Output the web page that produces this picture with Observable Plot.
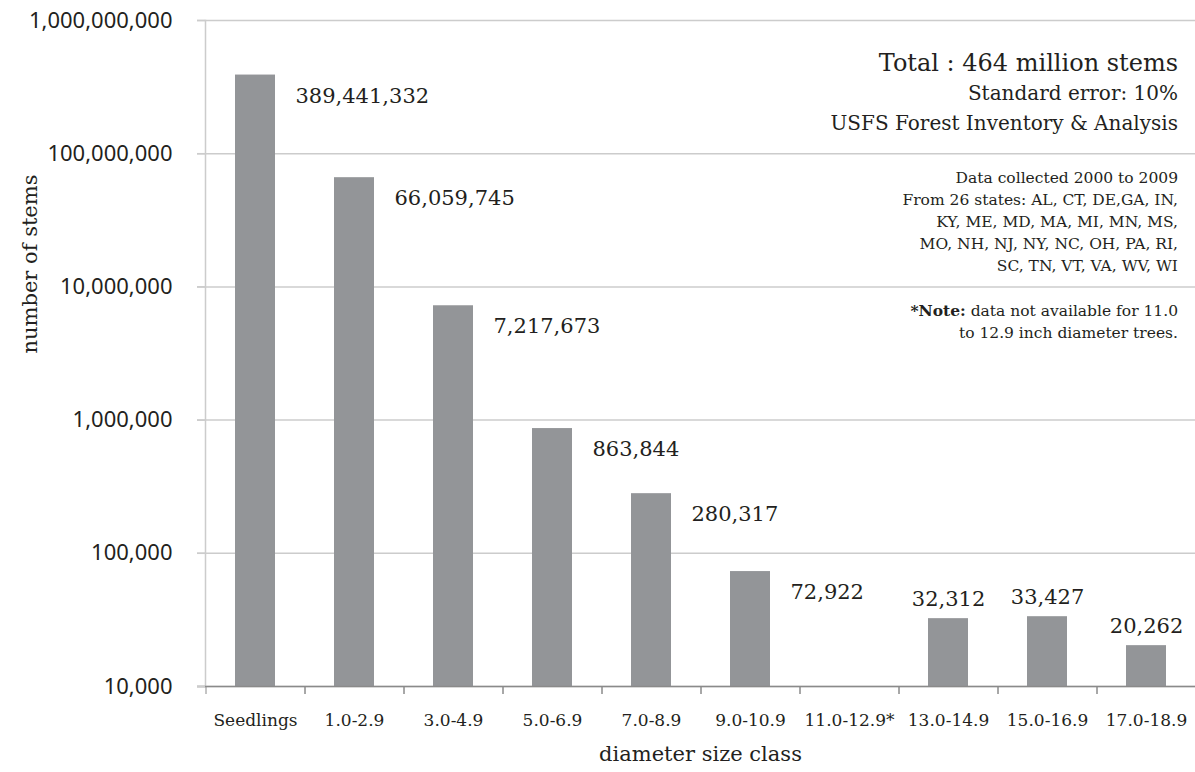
<!DOCTYPE html>
<html>
<head>
<meta charset="utf-8">
<script src="https://cdn.jsdelivr.net/npm/d3@7"></script>
<script src="https://cdn.jsdelivr.net/npm/@observablehq/plot@0.6"></script>
<style>
  html, body { margin: 0; padding: 0; background: #fff; }
  #chart svg { display: block; }
</style>
</head>
<body>
<div id="chart"></div>
<script>
const categories = ["Seedlings", "1.0-2.9", "3.0-4.9", "5.0-6.9", "7.0-8.9", "9.0-10.9", "11.0-12.9*", "13.0-14.9", "15.0-16.9", "17.0-18.9"];
const stems = [389441332, 66059745, 7217673, 863844, 280317, 72922, null, 32312, 33427, 20262];
const sideLabeled = ["Seedlings", "1.0-2.9", "3.0-4.9", "5.0-6.9", "7.0-8.9", "9.0-10.9"];
const yTicks = [1e4, 1e5, 1e6, 1e7, 1e8, 1e9];
const noteLines = [
  "Data collected 2000 to 2009",
  "From 26 states: AL, CT, DE,GA, IN,",
  "KY, ME, MD, MA, MI, MN, MS,",
  "MO, NH, NJ, NY, NC, OH, PA, RI,",
  "SC, TN, VT, VA, WV, WI"
];

const data = categories.map((c, i) => ({cat: c, value: stems[i]})).filter(d => d.value != null);
const fmt = d3.format(",");
const serif = "'DejaVu Serif', serif";
const sans = "'Noto Sans', sans-serif";

const chart = Plot.plot({
  width: 1195,
  height: 772,
  marginLeft: 205,
  marginRight: 0,
  marginTop: 20,
  marginBottom: 86,
  style: {background: "#fff"},
  x: {domain: categories, paddingInner: 0.6, paddingOuter: 0.3, label: null},
  y: {type: "log", domain: [1e4, 1e9], label: null},
  marks: [
    Plot.gridY(yTicks, {stroke: "#cccccc", strokeOpacity: 1, strokeWidth: 1.5, insetLeft: -8}),
    Plot.frame({anchor: "left", stroke: "#cccccc", strokeWidth: 1.5}),
    Plot.barY(data, {x: "cat", y1: 1e4, y2: "value", fill: "#939598"}),
    Plot.ruleY([1e4], {stroke: "#8a8a8a", strokeWidth: 1.5, insetLeft: -8}),
    Plot.axisY(yTicks, {tickFormat: fmt, tickSize: 8, tickPadding: 25, fontSize: 22, fontFamily: sans, stroke: "#cccccc", strokeWidth: 1.5, fill: "#231f20", label: null}),
    Plot.axisX({tickSize: 8, tickFormat: () => "", dx: -49.5, stroke: "#8a8a8a", label: null}),
    Plot.axisX({tickSize: 8, tickFormat: () => "", dx: 49.5, stroke: "#8a8a8a", label: null}),
    Plot.axisX({tickSize: 0, tickPadding: 27, fontSize: 17, fontFamily: serif, fill: "#231f20", label: null}),
    Plot.text(data.filter(d => sideLabeled.includes(d.cat)), {x: "cat", y: "value", text: d => fmt(d.value), textAnchor: "start", dx: 40, dy: 21, fontSize: 21, fontFamily: serif, fill: "#231f20"}),
    Plot.text(data.filter(d => !sideLabeled.includes(d.cat)), {x: "cat", y: "value", text: d => fmt(d.value), textAnchor: "middle", dy: -19, fontSize: 21, fontFamily: serif, fill: "#231f20"}),
    Plot.text(["number of stems"], {frameAnchor: "left", rotate: -90, dx: -175, fontSize: 21, fontFamily: serif, fill: "#231f20"}),
    Plot.text(["diameter size class"], {frameAnchor: "bottom", dy: 74, fontSize: 21, fontFamily: serif, fill: "#231f20"})
  ]
});

document.getElementById("chart").appendChild(chart);

// Annotation block (top-right)
const svg = d3.select(chart);
const g = svg.append("g").attr("font-family", serif).attr("fill", "#231f20").attr("text-anchor", "end");
const xr = 1178;
g.append("text").attr("x", xr).attr("y", 71).attr("font-size", 24).text("Total : 464 million stems");
g.append("text").attr("x", xr).attr("y", 100).attr("font-size", 20).text("Standard error: 10%");
g.append("text").attr("x", xr).attr("y", 130).attr("font-size", 20).text("USFS Forest Inventory & Analysis");
noteLines.forEach((t, i) => {
  g.append("text").attr("x", xr).attr("y", 183 + i * 22).attr("font-size", 15.5).text(t);
});
const n1 = g.append("text").attr("x", xr).attr("y", 316).attr("font-size", 15.5);
n1.append("tspan").attr("font-weight", "bold").text("*Note:");
n1.append("tspan").text(" data not available for 11.0");
g.append("text").attr("x", xr).attr("y", 338).attr("font-size", 15.5).text("to 12.9 inch diameter trees.");
</script>
</body>
</html>
